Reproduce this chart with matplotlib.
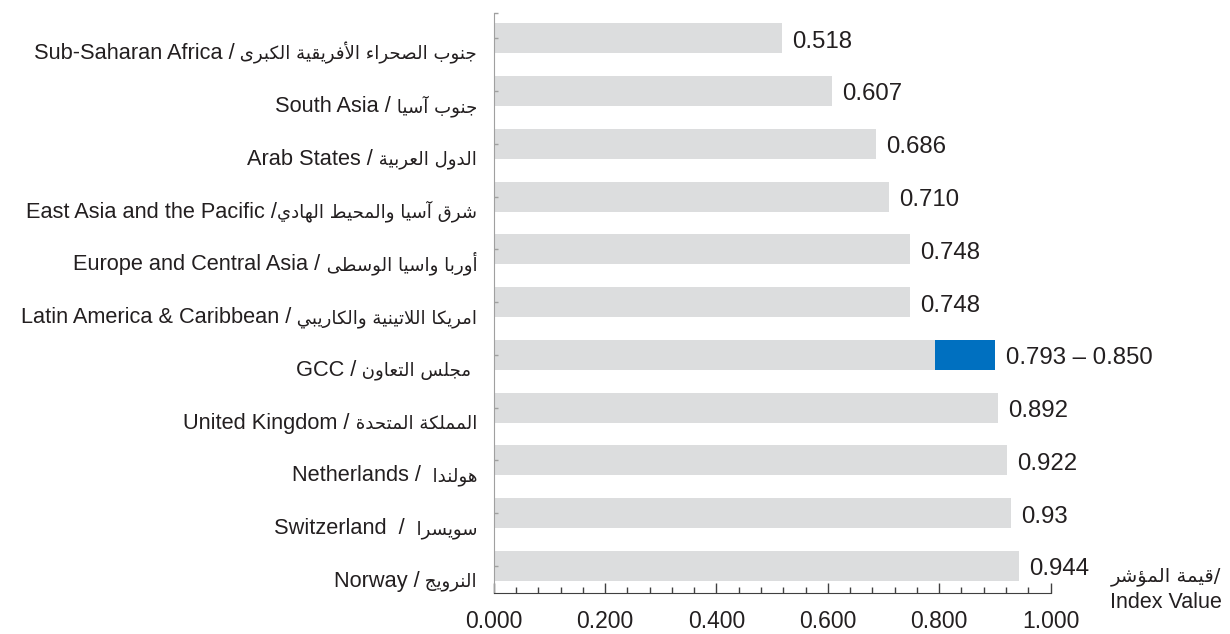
import matplotlib
matplotlib.use("Agg")
import numpy as np
import matplotlib.pyplot as plt
from matplotlib.ticker import MultipleLocator, FormatStrFormatter
from matplotlib.transforms import ScaledTranslation

plt.rcParams["font.family"] = ["Liberation Sans", "DejaVu Sans"]

# ----- Data -----

regions_en = [
    "Sub-Saharan Africa",
    "South Asia",
    "Arab States",
    "East Asia and the Pacific",
    "Europe and Central Asia",
    "Latin America & Caribbean",
    "GCC",
    "United Kingdom",
    "Netherlands",
    "Switzerland",
    "Norway",
]

regions_ar = [
    "جنوب الصحراء الأفريقية الكبرى",
    "جنوب آسيا",
    "الدول العربية",
    "شرق آسيا والمحيط الهادي",
    "أوربا واسيا الوسطى",
    "امريكا اللاتينية والكاريبي",
    " مجلس التعاون",   # leading space ends up after the text once reversed
    "المملكة المتحدة",
    "هولندا",
    "سويسرا",
    "النرويج",
]

separators = [" / ", " / ", " / ", " /", " / ", " / ", " / ", " / ", " /  ", "  /  ", " / "]

# bar lengths as drawn in the chart
bar_values = [0.518, 0.607, 0.686, 0.709, 0.747, 0.747, 0.793, 0.906, 0.922, 0.929, 0.943]
gcc_index = 6
gcc_high = 0.901

value_labels = ["0.518", "0.607", "0.686", "0.710", "0.748", "0.748",
                "0.793 \u2013 0.850", "0.892", "0.922", "0.93", "0.944"]

axis_label_ar = "قيمة المؤشر"
axis_label_en = "Index Value"

GREY = "#dcddde"
BLUE = "#0070c0"
TEXT = "#231f20"

# ----- Arabic shaping (no bidi library here) -----

codes = list(range(0x621, 0x63B)) + list(range(0x641, 0x64B))
n_forms = [1, 2, 2, 2, 2, 4, 2, 4, 2] + [4] * 5 + [2] * 4 + [4] * 8 + [4] * 7 + [2, 2, 4]
FORMS = {}
base = 0xFE80
for c, n in zip(codes, n_forms):
    FORMS[chr(c)] = (base, n)
    base += n

LAM_ALEF = {"\u0622": 0xFEF5, "\u0623": 0xFEF7, "\u0625": 0xFEF9, "\u0627": 0xFEFB}


def shape_ar(s):
    out = []
    i = 0
    while i < len(s):
        c = s[i]
        if c not in FORMS:
            out.append(c)
            i += 1
            continue
        prev = s[i - 1] if i > 0 else ""
        link_prev = prev in FORMS and FORMS[prev][1] == 4
        if c == "\u0644" and i + 1 < len(s) and s[i + 1] in LAM_ALEF:
            out.append(chr(LAM_ALEF[s[i + 1]] + (1 if link_prev else 0)))
            i += 2
            continue
        nxt = s[i + 1] if i + 1 < len(s) else ""
        b, n = FORMS[c]
        link_next = n == 4 and nxt in FORMS and FORMS[nxt][1] > 1
        if n == 1:
            out.append(chr(b))
        elif link_prev and link_next:
            out.append(chr(b + 3))
        elif link_prev:
            out.append(chr(b + 1))
        elif link_next:
            out.append(chr(b + 2))
        else:
            out.append(chr(b))
        i += 1
    # visual order for left-to-right drawing
    return "".join(out)[::-1]


# ----- Plot -----

fig = plt.figure(figsize=(12.3, 6.34), dpi=100)
ax = fig.add_axes([0.4014, 0.0642, 0.4527, 0.9158])

y = np.arange(len(regions_en))
ax.barh(y, bar_values, height=0.57, color=GREY, edgecolor="none")
ax.barh(y[gcc_index], gcc_high - bar_values[gcc_index], left=bar_values[gcc_index],
        height=0.57, color=BLUE, edgecolor="none")

ends = list(bar_values)
ends[gcc_index] = gcc_high
for yi, end, txt in zip(y, ends, value_labels):
    ax.annotate(txt, (end, yi), xytext=(7.5, -6.8), textcoords="offset points",
                va="baseline", ha="left", fontsize=17.3, color=TEXT)

ax.set_xlim(0, 1)
ax.set_ylim(10.52, -0.485)

ax.xaxis.set_major_locator(MultipleLocator(0.2))
ax.xaxis.set_minor_locator(MultipleLocator(0.04))
ax.xaxis.set_major_formatter(FormatStrFormatter("%.3f"))
ax.tick_params(axis="x", which="major", direction="in", length=7, width=1,
               color="#404040", pad=12, labelsize=16.5, labelcolor=TEXT)
ax.tick_params(axis="x", which="minor", direction="in", length=4.5, width=1, color="#404040")

ax.set_yticks(y)
ax.set_yticklabels([])
ax.set_yticks([-0.485], minor=True)
ax.tick_params(axis="y", which="both", direction="in", length=3, width=1, color="#a0a0a0")

# category labels: Arabic part drawn smaller, English part placed to its left
renderer = fig.canvas.get_renderer()
ytrans = ax.get_yaxis_transform()
for yi, en, sep, ar in zip(y, regions_en, separators, regions_ar):
    gap = sep[len(sep.rstrip()):]
    off = ScaledTranslation(-16.7 / 100, -21 / 100, fig.dpi_scale_trans)
    t_ar = ax.text(0, yi, gap + shape_ar(ar), transform=ytrans + off, ha="right",
                   va="baseline", fontsize=13.1, family="DejaVu Sans", color=TEXT)
    w = t_ar.get_window_extent(renderer).width
    off_en = ScaledTranslation(-(16.7 + w) / 100, -21 / 100, fig.dpi_scale_trans)
    ax.text(0, yi, en + sep.rstrip(), transform=ytrans + off_en, ha="right",
            va="baseline", fontsize=15.7, color=TEXT)

for side in ["top", "right"]:
    ax.spines[side].set_visible(False)
ax.spines["left"].set_color("#a0a0a0")
ax.spines["bottom"].set_color("#404040")

fig.text(1166 / 1230, 1 - 576 / 634, shape_ar(axis_label_ar) + "/", ha="center", va="center",
         fontsize=14, family=["DejaVu Sans"], color=TEXT)
fig.text(1166 / 1230, 1 - 602 / 634, axis_label_en, ha="center", va="center",
         fontsize=15.5, color=TEXT)

fig.savefig("out.png", dpi=100)
